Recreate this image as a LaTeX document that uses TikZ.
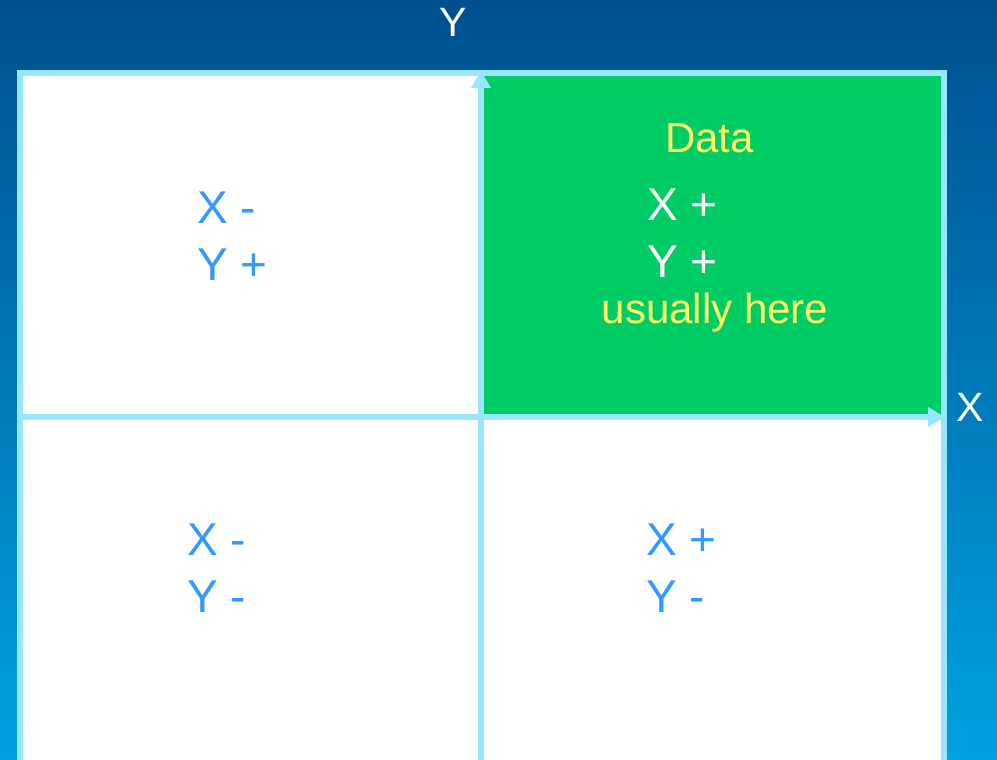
\documentclass[tikz,border=0pt]{standalone}
\usepackage{fontspec}
\setmainfont{Liberation Sans}
\usetikzlibrary{arrows.meta}

\definecolor{bgtop}{HTML}{00508F}
\definecolor{bgbot}{HTML}{00A2E2}
\definecolor{axisblue}{HTML}{99E6FF}
\definecolor{datagreen}{HTML}{00CC66}
\definecolor{signblue}{HTML}{3399FF}
\definecolor{datayellow}{HTML}{FFFF66}

\begin{document}
\begin{tikzpicture}[
    x=1pt, y=-1pt,
    axis/.style={draw=axisblue, line width=6pt, -{Triangle[length=17pt,width=19pt]}},
    sign/.style={anchor=base west, inner sep=0pt, text=signblue, font=\fontsize{46}{55}\selectfont},
    note/.style={anchor=base, inner sep=0pt, text=datayellow, font=\fontsize{42}{50}\selectfont},
    axislabel/.style={anchor=base, inner sep=0pt, text=white, font=\fontsize{41}{49}\selectfont}
]
\useasboundingbox (0,0) rectangle (997,760);

% Background
\shade[top color=bgtop, bottom color=bgbot] (0,0) rectangle (997,760);

% Quadrants
\fill[white] (20,73) rectangle (943.5,775);
\fill[datagreen] (481,73) rectangle (943.5,417);
\draw[axisblue, line width=6pt] (20,775) -- (20,73) -- (943.5,73) -- (943.5,775);

% Axes
\coordinate (xstart) at (17,417);
\coordinate (xend) at (945,417);
\coordinate (ystart) at (481,775);
\coordinate (yend) at (481,71);
\draw[axis] (xstart) -- (xend);
\draw[axis] (ystart) -- (yend);

% Axis labels
\node[axislabel] (ylabel) at (453,37) {Y};
\node[axislabel] (xlabel) at (970,421) {X};

% Signs
\node[sign] (tlx) at (197,223) {X -};
\node[sign] (tly) at (197,280) {Y +};
\node[sign, text=white] (trx) at (647,220) {X +};
\node[sign, text=white] (try) at (647,277) {Y +};
\node[sign] (blx) at (187,555) {X -};
\node[sign] (bly) at (187,612) {Y -};
\node[sign] (brx) at (646,555) {X +};
\node[sign] (bry) at (646,612) {Y -};

% Data note
\node[note] (data) at (709.5,153) {Data};
\node[note] (usually) at (715,323) {usually here};

\end{tikzpicture}
\end{document}
